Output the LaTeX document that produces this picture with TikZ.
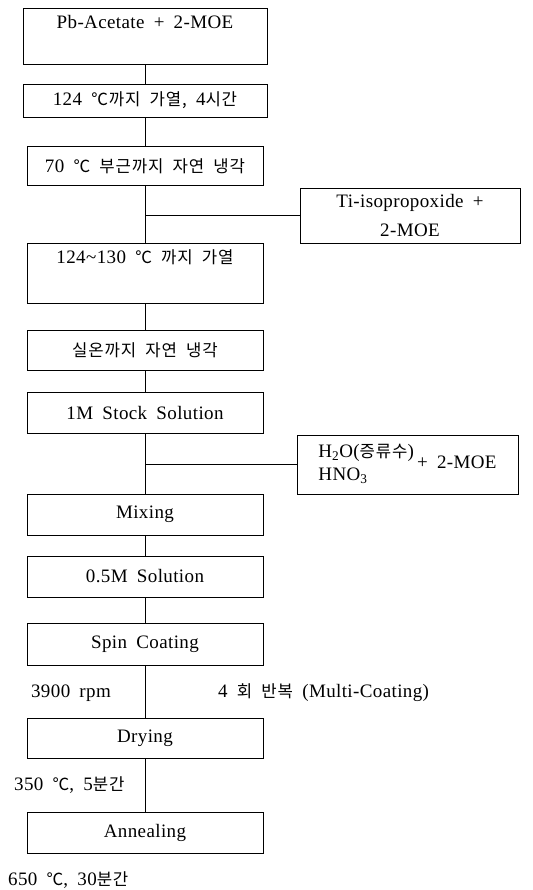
\documentclass[tikz,border=0pt]{standalone}
\usepackage{fontspec}
\setmainfont{Liberation Serif}[WordSpace=1.8, LetterSpace=2]
\newfontfamily\kr{Noto Sans CJK KR}[Scale=0.88, WordSpace=2, LetterSpace=5]
\usepackage{tikz}

\begin{document}
\begin{tikzpicture}[x=1pt, y=-1pt,
    every node/.style={align=center, font=\fontsize{19}{23}\selectfont},
    box/.style={draw, line width=0.8pt, minimum width=236pt, minimum height=41pt, inner sep=4pt},
    addbox/.style={draw, line width=0.8pt, minimum width=220pt, minimum height=57pt, inner sep=4pt},
    note/.style={inner sep=2pt},
    link/.style={line width=0.8pt}]
                        \useasboundingbox (0, 0) rectangle (532, 890);
                        \node[box, minimum width=244pt, inner sep=8pt, text height=13pt, text depth=27pt] (A) at (145, 36) {Pb-Acetate + 2-MOE};
                        \node[box, minimum width=244pt, minimum height=33pt] (B) at (145, 100.5) {124 {\kr ℃까지 가열,} 4{\kr 시간}};
                        \node[box, minimum height=39pt] (C) at (145, 166) {70 {\kr ℃ 부근까지 자연 냉각}};
                        \node[addbox, minimum height=55pt] (T) at (410, 215.5) {Ti-isopropoxide +\\[6pt]2-MOE};
                        \node[box, inner sep=8pt, text height=12pt, text depth=32pt] (D) at (145, 273) {124\textasciitilde130 {\kr ℃ 까지 가열}};
                        \node[box, minimum height=40pt] (E) at (145, 350) {{\kr 실온까지 자연 냉각}};
                        \node[box] (F) at (145, 412.5) {1M Stock Solution};
                        \node[addbox, minimum width=221pt, minimum height=59pt] (H) at (407.5, 464.5) {\begin{tabular}{@{}l@{}}H\textsubscript{2}O({\kr 증류수})\\HNO\textsubscript{3}\end{tabular}\,+ 2-MOE};
                        \node[box] (G) at (145, 514.5) {Mixing};
                        \node[box] (I) at (145, 576.5) {0.5M Solution};
                        \node[box, minimum height=42pt] (J) at (145, 644) {Spin Coating};
                        \node[box, minimum height=40pt] (K) at (145, 738) {Drying};
                        \node[box] (L) at (145, 832.5) {Annealing};
                        \node[note] (rpm) at (71, 693) {3900 rpm};
                        \node[note, anchor=west] (rep) at (216, 693) {4 {\kr 회 반복} (Multi-Coating)};
                        \node[note, anchor=west] (dry) at (12, 785) {350 {\kr ℃}, 5{\kr 분간}};
                        \node[note, anchor=west] (ann) at (6, 880) {650 {\kr ℃}, 30{\kr 분간}};
                        \draw[link] (A) -- (B);
                        \draw[link] (B) -- (C);
                        \draw[link] (C) -- (D);
                        \draw[link] (T.west) -- (T.west -| C);
                        \draw[link] (D) -- (E);
                        \draw[link] (E) -- (F);
                        \draw[link] (F) -- (G);
                        \draw[link] (H.west) -- (H.west -| F);
                        \draw[link] (G) -- (I);
                        \draw[link] (I) -- (J);
                        \draw[link] (J) -- (K);
                        \draw[link] (K) -- (L);
                    \end{tikzpicture}
\end{document}
